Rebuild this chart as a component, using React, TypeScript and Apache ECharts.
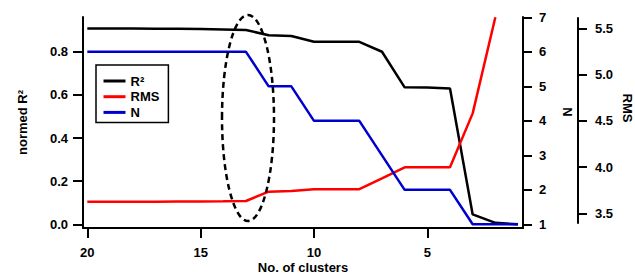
import React, { useEffect, useRef } from "react";
import * as echarts from "echarts";

const clusters = [20, 19, 18, 17, 16, 15, 14, 13, 12, 11, 10, 9, 8, 7, 6, 5, 4, 3, 2, 1];
const r2Values = [0.908, 0.908, 0.908, 0.907, 0.906, 0.905, 0.903, 0.901, 0.876, 0.873, 0.846, 0.846, 0.846, 0.8, 0.635, 0.634, 0.63, 0.046, 0.007, 0.0];
const rmsValues = [3.625, 3.625, 3.625, 3.625, 3.627, 3.628, 3.63, 3.633, 3.734, 3.741, 3.76, 3.76, 3.76, 3.878, 3.997, 3.997, 3.997, 4.58, 5.62, null];
const nValues = [6, 6, 6, 6, 6, 6, 6, 6, 5, 5, 4, 4, 4, 3, 2, 2, 2, 1, 1, 1];

const xTicks = [5, 10, 15, 20];
const r2Ticks = [0, 0.2, 0.4, 0.6, 0.8];
const nTicks = [1, 2, 3, 4, 5, 6, 7];
const rmsTicks = [3.5, 4.0, 4.5, 5.0, 5.5];

const FONT = '"Liberation Sans", Arial, Helvetica, sans-serif';
const labelStyle = { fontSize: 13, fontWeight: "bold" as const, color: "#000", fontFamily: FONT };
const lineAxis = { show: true, onZero: false, lineStyle: { color: "#000", width: 2 } };

export default function App() {
  const ref = useRef<HTMLDivElement>(null);
  useEffect(() => {
    if (!ref.current) return;
    const chart = echarts.init(ref.current, null, { renderer: "svg" });
    chart.setOption({
      animation: false,
      backgroundColor: "#fff",
      textStyle: { fontFamily: FONT },
      grid: [
        { left: 83, right: 112, top: 17, bottom: 47, containLabel: false, outerBoundsMode: "none" },
        { left: 83, right: 112, top: 18, bottom: 52, containLabel: false, outerBoundsMode: "none" },
      ],
      legend: {
        show: true,
        orient: "vertical",
        left: 96,
        top: 65,
        padding: [9, 9, 3, 6],
        itemWidth: 22,
        itemHeight: 14,
        itemGap: 1.7,
        borderColor: "#000",
        borderWidth: 1.5,
        itemStyle: { opacity: 0 },
        lineStyle: { width: 3 },
        textStyle: { ...labelStyle, lineHeight: 14 },
        data: ["R²", "RMS", "N"],
      },
      xAxis: [
        {
          type: "value",
          gridIndex: 0,
          inverse: true,
          min: 0.78,
          max: 20.19,
          axisLine: lineAxis,
          axisTick: { show: true, customValues: xTicks, length: 10, lineStyle: { color: "#000", width: 2 } },
          axisLabel: { ...labelStyle, lineHeight: 13, customValues: xTicks, margin: 18 },
          splitLine: { show: false },
          name: "No. of clusters",
          nameLocation: "middle",
          nameGap: 33,
          nameMoveOverlap: false,
          nameTextStyle: { ...labelStyle, lineHeight: 13 },
        },
        { type: "value", gridIndex: 1, inverse: true, min: 0.78, max: 20.19, show: false, splitLine: { show: false } },
      ],
      yAxis: [
        {
          type: "value",
          gridIndex: 0,
          position: "left",
          min: -0.017,
          max: 0.961,
          axisLine: lineAxis,
          axisTick: { show: true, customValues: r2Ticks, length: 10, lineStyle: { color: "#000", width: 2 } },
          axisLabel: { ...labelStyle, customValues: r2Ticks, margin: 15, formatter: (v: number) => v.toFixed(1) },
          splitLine: { show: false },
          name: "normed R²",
          nameLocation: "middle",
          nameRotate: 90,
          nameGap: 54,
          nameMoveOverlap: false,
          nameTextStyle: labelStyle,
        },
        {
          type: "value",
          gridIndex: 0,
          position: "right",
          min: 0.893,
          max: 7.01,
          axisLine: lineAxis,
          axisTick: { show: true, customValues: nTicks, length: 9, lineStyle: { color: "#000", width: 2 } },
          axisLabel: { ...labelStyle, customValues: nTicks, margin: 16 },
          splitLine: { show: false },
        },
        {
          type: "value",
          gridIndex: 1,
          position: "right",
          offset: 55,
          min: 3.395,
          max: 5.611,
          axisLine: lineAxis,
          axisTick: { show: true, customValues: rmsTicks, length: 9, lineStyle: { color: "#000", width: 2 } },
          axisLabel: { ...labelStyle, customValues: rmsTicks, margin: 17, formatter: (v: number) => v.toFixed(1) },
          splitLine: { show: false },
        },
      ],
      series: [
        {
          type: "line",
          name: "R²",
          xAxisIndex: 0,
          yAxisIndex: 0,
          data: clusters.map((c, i) => [c, r2Values[i]]),
          symbol: "none",
          lineStyle: { color: "#000", width: 2.5 },
          itemStyle: { color: "#000" },
        },
        {
          type: "line",
          name: "RMS",
          xAxisIndex: 1,
          yAxisIndex: 2,
          data: clusters.map((c, i) => [c, rmsValues[i]]),
          symbol: "none",
          lineStyle: { color: "#ff0000", width: 2.5 },
          itemStyle: { color: "#ff0000" },
        },
        {
          type: "line",
          name: "N",
          xAxisIndex: 0,
          yAxisIndex: 1,
          data: clusters.map((c, i) => [c, nValues[i]]),
          symbol: "none",
          lineStyle: { color: "#0000cc", width: 2.5 },
          itemStyle: { color: "#0000cc" },
        },
      ],
      graphic: [
        {
          type: "ellipse",
          shape: { cx: 248, cy: 118, rx: 26, ry: 103 },
          style: { fill: "none", stroke: "#000", lineWidth: 2.5, lineDash: [6, 4] },
          z: 100,
        },
        {
          type: "text",
          x: 567,
          y: 112,
          rotation: -Math.PI / 2,
          style: { text: "N", fontSize: 13, fontWeight: "bold", fontFamily: FONT, fill: "#000", align: "center", verticalAlign: "middle" },
        },
        {
          type: "text",
          x: 627,
          y: 108,
          rotation: -Math.PI / 2,
          style: { text: "RMS", fontSize: 13, fontWeight: "bold", fontFamily: FONT, fill: "#000", align: "center", verticalAlign: "middle" },
        },
      ],
    });
    return () => chart.dispose();
  }, []);
  return <div ref={ref} style={{ position: "fixed", left: 0, top: 0, width: 635, height: 275 }} />;
}
